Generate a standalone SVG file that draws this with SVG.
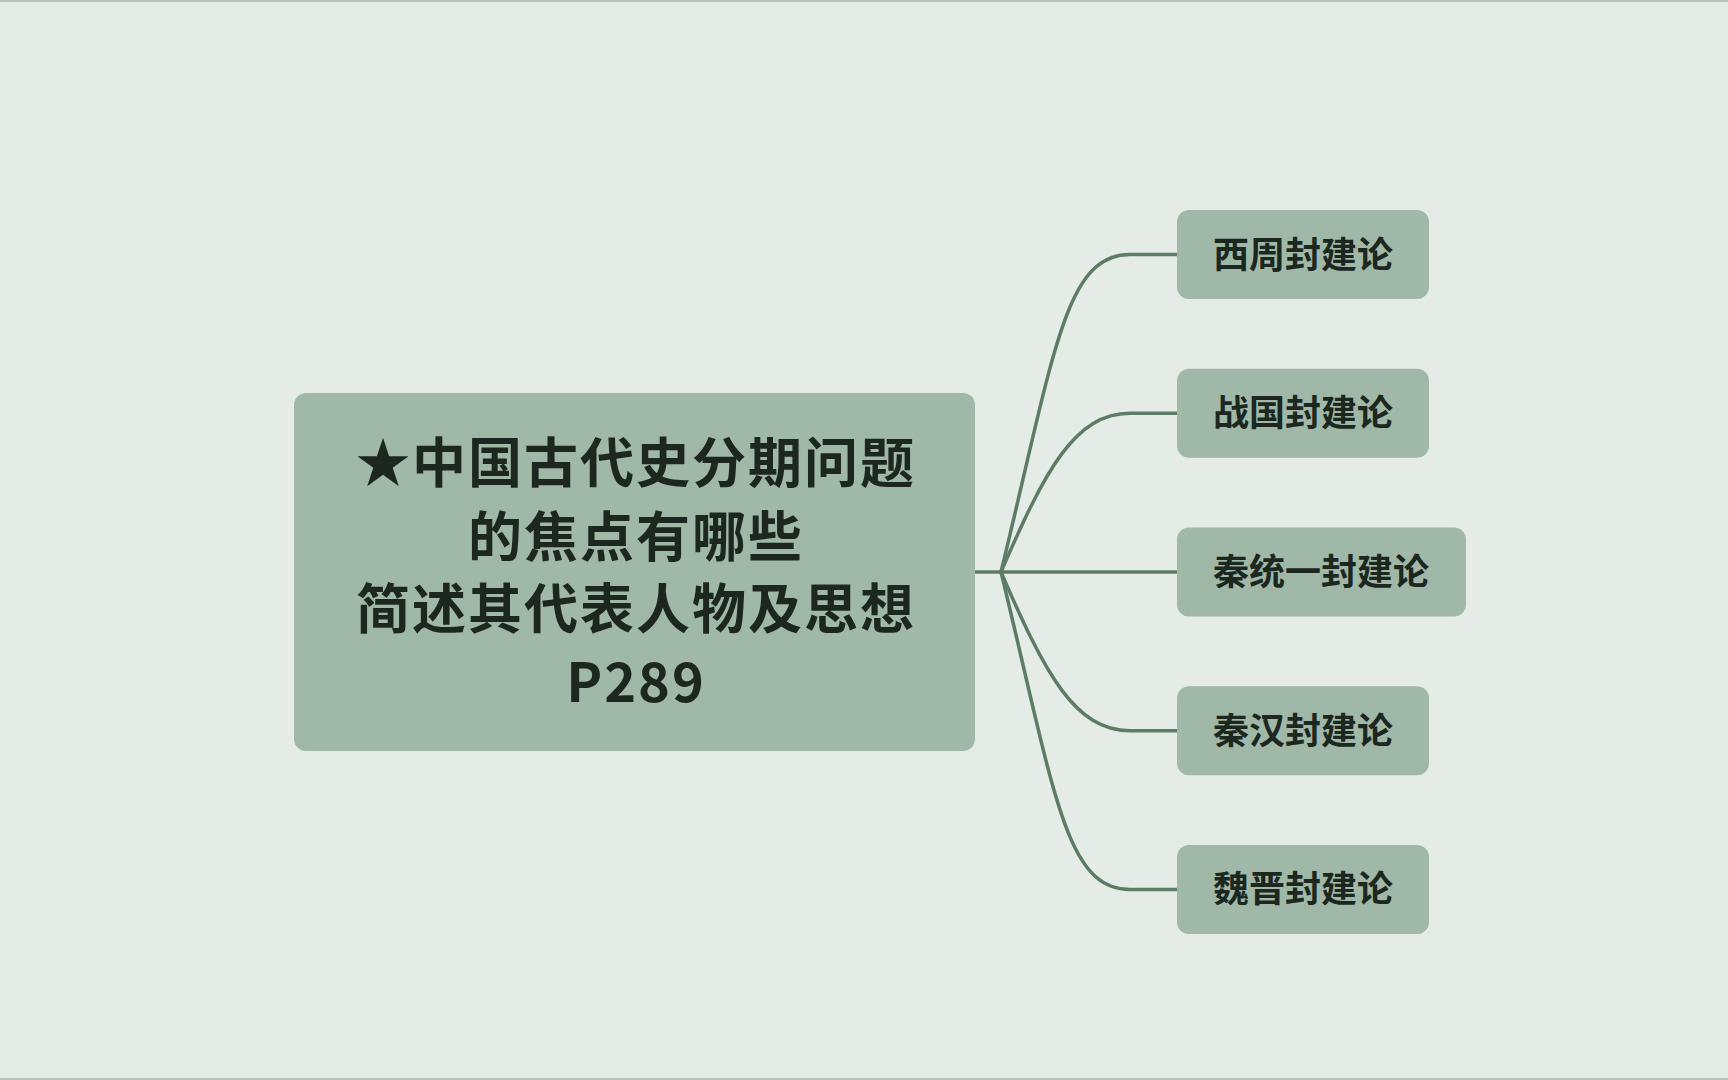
<svg xmlns="http://www.w3.org/2000/svg" width="1728" height="1080" viewBox="0 0 1728 1080">
<style>
.node rect{fill:#9fb8a8}
.t{font-family:"Noto Sans CJK SC","Noto Sans",sans-serif;font-weight:bold;fill:#1c271f}
.main{font-size:54px;letter-spacing:2px;text-anchor:middle}
.sub{font-size:36px}
.conn path{fill:none;stroke:#5d7c66;stroke-width:3.5;stroke-linecap:round}
</style>
<rect width="1728" height="1080" fill="#e5ece7"/>
<rect x="0" y="0" width="1728" height="2" fill="#b9c1bc"/>
<rect x="0" y="1078" width="1728" height="2" fill="#b9c1bc"/>
<g id="connectors" class="conn">
<path d="M975 572 L1001 572"/>
<path d="M1001 572 C1055 350 1065 254.5 1130 254.5 L1177 254.5"/>
<path d="M1001 572 C1045 470 1075 413.3 1130 413.3 L1177 413.3"/>
<path d="M1001 572 L1177 572"/>
<path d="M1001 572 C1045 674 1075 730.7 1130 730.7 L1177 730.7"/>
<path d="M1001 572 C1055 794 1065 889.4 1130 889.4 L1177 889.4"/>
</g>
<g id="root" class="node">
<rect x="294" y="393" width="681" height="358" rx="12"/>
<text class="t main" x="636" y="483">★中国古代史分期问题</text>
<text class="t main" x="636" y="557">的焦点有哪些</text>
<text class="t main" x="636" y="629">简述其代表人物及思想</text>
<text class="t main" x="636" y="702">P289</text>
</g>
<g id="n1" class="node">
<rect x="1177" y="210" width="252" height="89" rx="12"/>
<text class="t sub" x="1213" y="267.5">西周封建论</text>
</g>
<g id="n2" class="node">
<rect x="1177" y="368.8" width="252" height="89" rx="12"/>
<text class="t sub" x="1213" y="426.3">战国封建论</text>
</g>
<g id="n3" class="node">
<rect x="1177" y="527.5" width="289" height="89" rx="12"/>
<text class="t sub" x="1213" y="585">秦统一封建论</text>
</g>
<g id="n4" class="node">
<rect x="1177" y="686.2" width="252" height="89" rx="12"/>
<text class="t sub" x="1213" y="743.7">秦汉封建论</text>
</g>
<g id="n5" class="node">
<rect x="1177" y="844.9" width="252" height="89" rx="12"/>
<text class="t sub" x="1213" y="902.4">魏晋封建论</text>
</g>
</svg>
